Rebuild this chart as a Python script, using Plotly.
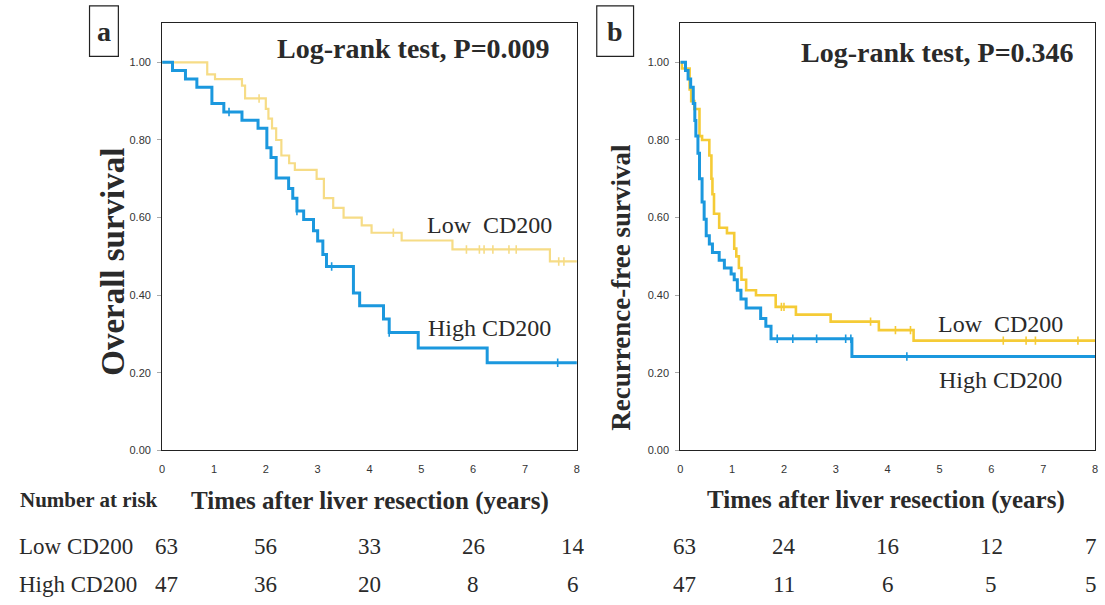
import plotly.graph_objects as go
import numpy as np

W, H = 1105, 605

# ---------------- data ----------------
# Panel a: overall survival
a_low_t = [0, 0.87, 1.02, 1.54, 1.6, 2.0, 2.05, 2.12, 2.2, 2.3, 2.45, 2.56, 2.98, 3.12, 3.3, 3.5, 3.85, 4.04, 4.62, 5.6, 7.48, 8.0]
a_low_s = [1.0, 0.969, 0.957, 0.94, 0.907, 0.88, 0.855, 0.83, 0.80, 0.76, 0.74, 0.723, 0.70, 0.65, 0.625, 0.60, 0.58, 0.561, 0.541, 0.518, 0.487, 0.487]
a_low_cens = [1.87, 4.46, 5.87, 6.12, 6.21, 6.38, 6.69, 6.83, 7.65, 7.75]

a_high_t = [0, 0.2, 0.45, 0.67, 0.96, 1.19, 1.54, 1.85, 2.02, 2.1, 2.2, 2.44, 2.52, 2.6, 2.73, 2.92, 3.0, 3.1, 3.17, 3.69, 3.81, 4.27, 4.38, 4.94, 6.27, 8.0]
a_high_s = [1.0, 0.979, 0.957, 0.936, 0.894, 0.872, 0.851, 0.83, 0.78, 0.755, 0.702, 0.675, 0.65, 0.617, 0.595, 0.566, 0.54, 0.505, 0.474, 0.406, 0.373, 0.339, 0.304, 0.264, 0.226, 0.226]
a_high_cens = [1.29, 2.6, 3.27, 4.38, 7.63]

# Panel b: recurrence-free survival
b_low_t = [0, 0.03, 0.18, 0.21, 0.27, 0.37, 0.42, 0.56, 0.6, 0.62, 0.65, 0.75, 0.9, 1.04, 1.08, 1.13, 1.18, 1.27, 1.46, 1.84, 2.23, 2.9, 3.83, 4.5, 8.0]
b_low_s = [1.0, 0.984, 0.93, 0.9, 0.88, 0.81, 0.80, 0.76, 0.70, 0.66, 0.61, 0.574, 0.56, 0.52, 0.50, 0.47, 0.44, 0.413, 0.40, 0.37, 0.35, 0.332, 0.31, 0.283, 0.283]
b_low_cens = [1.95, 2.0, 3.67, 4.15, 4.44, 6.23, 6.67, 6.85, 7.67]

b_high_t = [0, 0.1, 0.15, 0.2, 0.25, 0.28, 0.3, 0.34, 0.37, 0.42, 0.46, 0.5, 0.56, 0.62, 0.75, 0.85, 0.98, 1.04, 1.1, 1.17, 1.27, 1.55, 1.65, 1.75, 3.31, 8.0]
b_high_s = [1.0, 0.979, 0.957, 0.936, 0.894, 0.85, 0.81, 0.766, 0.70, 0.64, 0.596, 0.553, 0.532, 0.51, 0.49, 0.47, 0.455, 0.44, 0.413, 0.39, 0.367, 0.34, 0.32, 0.288, 0.242, 0.242]
b_high_cens = [1.87, 2.17, 2.63, 3.19, 3.29, 4.37]

risk_times = [0, 2, 4, 6, 8]
a_low_risk = [63, 56, 33, 26, 14]
a_high_risk = [47, 36, 20, 8, 6]
b_low_risk = [63, 24, 16, 12, 7]
b_high_risk = [47, 11, 6, 5, 5]

x_ticks = [0, 1, 2, 3, 4, 5, 6, 7, 8]
y_ticks = [0.0, 0.2, 0.4, 0.6, 0.8, 1.0]

# ---------------- styles ----------------
BLUE = "#1b98de"
YEL_A = "#f6dc86"
YEL_B = "#f5cb36"
SERIF = "Liberation Serif"
SANS = "Liberation Sans"


def px_x(x):
    return x / W


def px_y(y):
    return 1 - y / H


def step_at(ts, ss, t):
    i = np.searchsorted(np.array(ts), t, side="right") - 1
    return ss[max(i, 0)]


fig = go.Figure()


def add_curve(ts, ss, cens, color, width, xa, ya):
    fig.add_trace(go.Scatter(x=ts, y=ss, mode="lines", line=dict(color=color, width=width, shape="hv"),
                             xaxis=xa, yaxis=ya, showlegend=False, hoverinfo="skip"))
    fig.add_trace(go.Scatter(x=cens, y=[step_at(ts, ss, c) for c in cens], mode="markers",
                             marker=dict(symbol="line-ns", size=6, line=dict(color=color, width=1.6)),
                             xaxis=xa, yaxis=ya, showlegend=False, hoverinfo="skip"))


add_curve(a_low_t, a_low_s, a_low_cens, YEL_A, 2.2, "x", "y")
add_curve(a_high_t, a_high_s, a_high_cens, BLUE, 3, "x", "y")
add_curve(b_low_t, b_low_s, b_low_cens, YEL_B, 2.6, "x2", "y2")
add_curve(b_high_t, b_high_s, b_high_cens, BLUE, 3, "x2", "y2")

top_px, bot_px = 23, 455
ydom = [px_y(bot_px), px_y(top_px)]
yr = [0, 1.102]

axis_common = dict(showline=True, linecolor="#222", linewidth=1, mirror=True, showgrid=False, zeroline=False)
xcommon = dict(axis_common, range=[0, 8], tickvals=x_ticks, ticks="", ticklabelstandoff=8,
               tickfont=dict(family=SANS, size=11, color="#333"))
ycommon = dict(axis_common, range=yr, tickvals=y_ticks, tickformat=".2f", ticks="outside", ticklen=4,
               tickcolor="#aaa", ticklabelstandoff=4, tickfont=dict(family=SANS, size=11, color="#333"))

fig.update_layout(
    width=W, height=H, margin=dict(l=0, r=0, t=0, b=0),
    paper_bgcolor="white", plot_bgcolor="white",
    xaxis=dict(xcommon, domain=[px_x(160), px_x(577)], anchor="y"),
    yaxis=dict(ycommon, domain=ydom, anchor="x"),
    xaxis2=dict(xcommon, domain=[px_x(681), px_x(1098)], anchor="y2"),
    yaxis2=dict(ycommon, domain=ydom, anchor="x2"),
)

ann = []


def txt(text, x, y, size, bold=False, xanchor="center", angle=0, color="#2a2a2a"):
    t = f"<b>{text}</b>" if bold else text
    ann.append(dict(text=t, x=px_x(x), y=px_y(y), xref="paper", yref="paper", showarrow=False,
                    xanchor=xanchor, yanchor="middle", textangle=angle,
                    font=dict(family=SERIF, size=size, color=color)))


# panel letters
shapes = []
for (x0, x1, letter) in [(87, 116, "a"), (597, 634, "b")]:
    shapes.append(dict(type="rect", xref="paper", yref="paper", x0=px_x(x0), x1=px_x(x1), y0=px_y(57), y1=px_y(6),
                       line=dict(color="#222", width=1.2), fillcolor="white"))
    txt(letter, (x0 + x1) / 2, 32, 28, bold=True)

txt("Log-rank test, P=0.009", 413, 49, 28, bold=True)
txt("Log-rank test, P=0.346", 940, 53, 28, bold=True)

txt("Overall survival", 111, 264, 33, bold=True, angle=-90)
txt("Recurrence-free survival", 622, 290, 27, bold=True, angle=-90)

txt("Low  CD200", 489, 227, 24)
txt("High CD200", 489, 331, 24)
txt("Low  CD200", 1003, 327, 24)
txt("High CD200", 1003, 384, 24)

txt("Number at risk", 15, 505, 21, bold=True, xanchor="left")
txt("Times after liver resection (years)", 369, 506, 25, bold=True)
txt("Times after liver resection (years)", 888, 505, 25, bold=True)

txt("Low CD200", 14, 552, 23, xanchor="left")
txt("High CD200", 14, 590, 23, xanchor="left")

for xa, lows, highs in [("x", a_low_risk, a_high_risk), ("x2", b_low_risk, b_high_risk)]:
    for t, lo, hi in zip(risk_times, lows, highs):
        for val, ypx in [(lo, 552), (hi, 590)]:
            ann.append(dict(text=str(val), x=t, y=px_y(ypx), xref=xa, yref="paper", showarrow=False,
                            xanchor="center", yanchor="middle", xshift=4 if t == 0 else (-4 if t == 8 else 0),
                            font=dict(family=SERIF, size=23, color="#2a2a2a")))

fig.update_layout(annotations=ann, shapes=shapes)
fig.write_html("out.html")
